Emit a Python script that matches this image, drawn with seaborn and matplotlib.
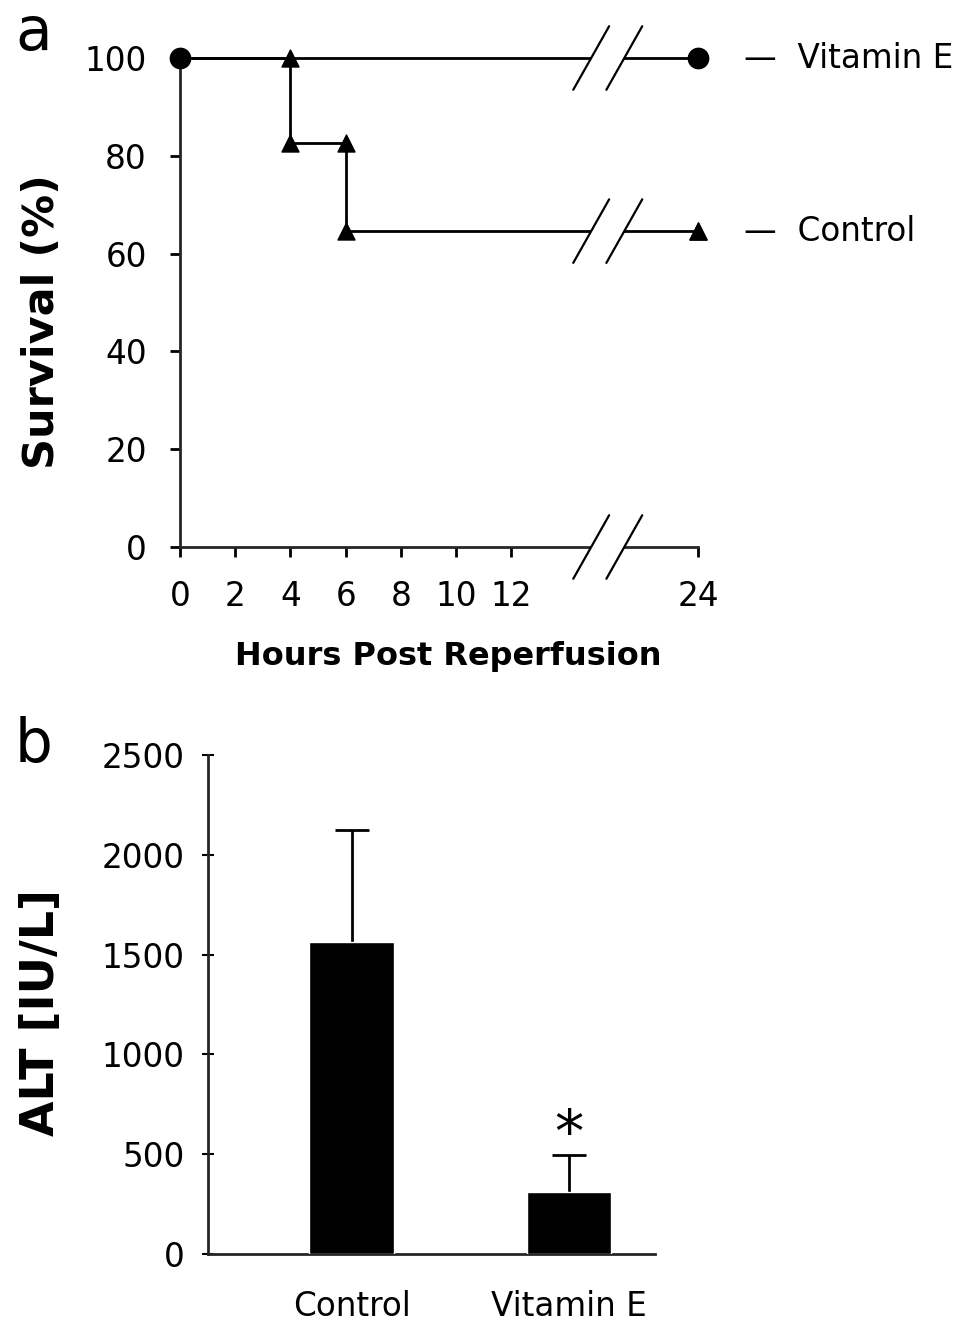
import numpy as np
import pandas as pd
import matplotlib
matplotlib.use("Agg")
import matplotlib.pyplot as plt
import seaborn as sns

# ---- data ----
# a: survival after reperfusion
control_hours = [0, 4, 6, 24]
control_surv = [100, 82.6, 64.6, 64.6]
vite_hours = [0, 24]
vite_surv = [100, 100]
hour_ticks = [0, 2, 4, 6, 8, 10, 12, 24]
surv_ticks = [0, 20, 40, 60, 80, 100]

# b: ALT
groups = ["Control", "Vitamin E"]
alt_mean = [1565, 310]
alt_sd = [560, 185]
alt_ticks = [0, 500, 1000, 1500, 2000, 2500]

sns.set_theme(style="ticks")
plt.rcParams["font.family"] = ["DejaVu Sans"]
plt.rcParams["text.color"] = "black"

# the time axis is broken between 12 and 24 h
AXIS_24 = 18.77
BREAK_X = (14.9, 16.1)


def to_axis(hours):
    return np.array([AXIS_24 if h == 24 else h for h in hours], dtype=float)


fig = plt.figure(figsize=(9.62, 13.23), dpi=100)

# -----------------------------
# a. survival curves
# -----------------------------
ax1 = fig.add_axes([180 / 962, 1 - 547 / 1323, 518 / 962, 489 / 1323])

ctrl = pd.DataFrame({"pos": to_axis(control_hours), "surv": control_surv})
vite = pd.DataFrame({"pos": to_axis(vite_hours), "surv": vite_surv})

sns.lineplot(data=ctrl, x="pos", y="surv", drawstyle="steps-post", color="black",
             lw=2, ax=ax1, clip_on=False, zorder=2)
sns.lineplot(data=vite, x="pos", y="surv", color="black", lw=2, ax=ax1,
             clip_on=False, zorder=2)

# triangles at each corner of the control step curve
corners_x, corners_y = [], []
for i in range(1, len(ctrl)):
    corners_x += [ctrl.pos[i], ctrl.pos[i]]
    corners_y += [ctrl.surv[i - 1], ctrl.surv[i]]
sns.scatterplot(x=corners_x, y=corners_y, marker="^", s=150, color="black",
                edgecolor="black", ax=ax1, clip_on=False, zorder=5)
sns.scatterplot(data=vite, x="pos", y="surv", marker="o", s=210, color="black",
                edgecolor="black", ax=ax1, clip_on=False, zorder=5)

# break marks on both curves and on the x axis
dx, dy = 0.65, 6.5
for yb in [0, vite_surv[-1], control_surv[-1]]:
    x1, x2 = BREAK_X
    ax1.fill([x1 - dx * 0.3, x1 + dx * 0.3, x2 + dx * 0.3, x2 - dx * 0.3],
             [yb - dy * 0.3, yb + dy * 0.3, yb + dy * 0.3, yb - dy * 0.3],
             color="white", zorder=4, clip_on=False, lw=0)
    for xb in BREAK_X:
        ax1.plot([xb - dx, xb + dx], [yb - dy, yb + dy], color="black", lw=1.6,
                 zorder=6, clip_on=False)

# curve labels
ax1.annotate("\u2014  Vitamin E", xy=(AXIS_24, vite_surv[-1]), xytext=(33, 0),
             textcoords="offset points", ha="left", va="center", fontsize=23.5,
             annotation_clip=False)
ax1.annotate("\u2014  Control", xy=(AXIS_24, control_surv[-1]), xytext=(33, 0),
             textcoords="offset points", ha="left", va="center", fontsize=23.5,
             annotation_clip=False)

ax1.set_xlim(0, AXIS_24)
ax1.set_ylim(0, 100)
ax1.set_xticks(to_axis(hour_ticks))
ax1.set_xticklabels([str(h) for h in hour_ticks])
ax1.set_yticks(surv_ticks)
ax1.set_xlabel("")
ax1.set_ylabel("")
sns.despine(ax=ax1)
for s in ["left", "bottom"]:
    ax1.spines[s].set_linewidth(2)
ax1.tick_params(axis="both", direction="out", length=7, width=2, labelsize=23.5,
                colors="black")
ax1.tick_params(axis="x", pad=17)
ax1.tick_params(axis="y", pad=17)

fig.text(448 / 962, 1 - 656 / 1323, "Hours Post Reperfusion", ha="center",
         va="center", fontsize=23, fontweight="bold")
fig.text(42 / 962, 1 - 322 / 1323, "Survival (%)", rotation=90, ha="center",
         va="center", fontsize=31, fontweight="bold")
fig.text(15 / 962, 1 - 50 / 1323, "a", fontsize=43, ha="left", va="baseline")

# -----------------------------
# b. ALT bar chart
# -----------------------------
ax2 = fig.add_axes([208 / 962, 1 - 1254 / 1323, 447 / 962, 499 / 1323])
sns.barplot(x=groups, y=alt_mean, color="black", saturation=1, width=0.39,
            ax=ax2, zorder=3)
_, caps, _ = ax2.errorbar(range(len(groups)), alt_mean,
                          yerr=[np.zeros(len(groups)), alt_sd], fmt="none",
                          ecolor="black", elinewidth=2, capsize=12.5,
                          capthick=2, zorder=2)
caps[0].set_visible(False)  # only the upper whisker is shown
ax2.annotate("*", xy=(1, alt_mean[1] + alt_sd[1]), xytext=(0, -6),
             textcoords="offset points", ha="center", va="bottom", fontsize=42)

ax2.set_xlim(-0.66, 1.395)
ax2.set_ylim(0, 2500)
ax2.set_yticks(alt_ticks)
ax2.set_xlabel("")
ax2.set_ylabel("")
sns.despine(ax=ax2)
for s in ["left", "bottom"]:
    ax2.spines[s].set_linewidth(2)
ax2.tick_params(axis="y", direction="inout", length=8, width=1.5, labelsize=23.5,
                colors="black", pad=13)
ax2.tick_params(axis="x", length=0, labelsize=23.5, colors="black", pad=26)

fig.text(42 / 962, 1 - 1012 / 1323, "ALT [IU/L]", rotation=90, ha="center",
         va="center", fontsize=33, fontweight="bold")
fig.text(15 / 962, 1 - 762 / 1323, "b", fontsize=43, ha="left", va="baseline")

fig.savefig("out.png", dpi=100)
